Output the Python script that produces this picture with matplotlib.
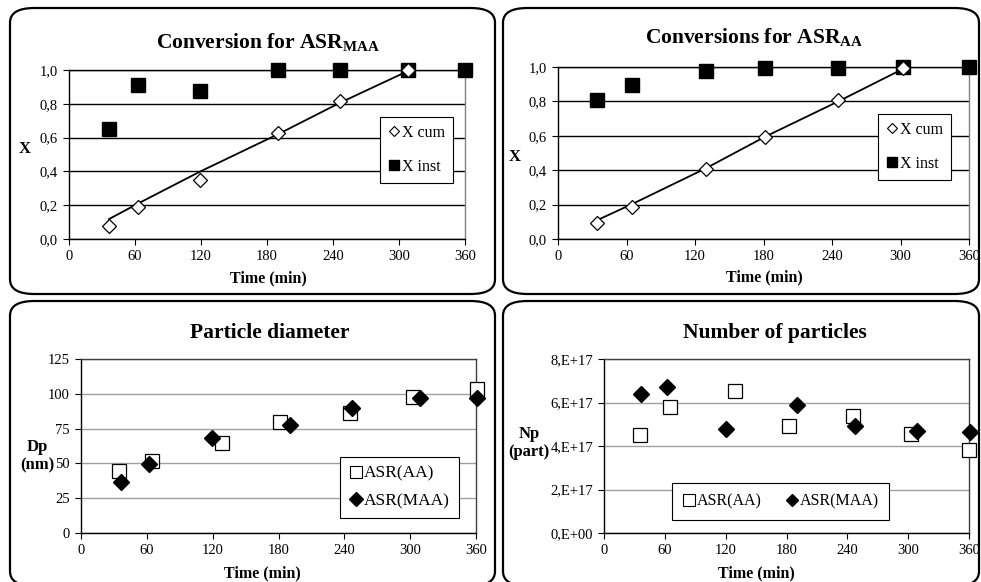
import matplotlib
matplotlib.use("Agg")
import matplotlib.pyplot as plt
from matplotlib.patches import FancyBboxPatch
from matplotlib.ticker import FixedLocator, FuncFormatter
from matplotlib.lines import Line2D

plt.rcParams['font.family'] = ['Liberation Serif', 'DejaVu Serif']
plt.rcParams['mathtext.fontset'] = 'custom'
plt.rcParams['mathtext.rm'] = 'Liberation Serif'
plt.rcParams['mathtext.bf'] = 'Liberation Serif:bold'

# ---- data ----
t_maa = [36.4, 62.8, 119.5, 190, 246, 308.5, 360]
xinst_maa = [0.649, 0.911, 0.878, 1.0, 1.0, 1.0, 1.0]
t_maa_cum = [36.4, 62.8, 119.5, 190, 246, 308.5]
xcum_maa = [0.077, 0.187, 0.347, 0.629, 0.818, 1.0]
fit_maa = [0.118, 0.21, 0.40, 0.62, 0.805, 0.995]

t_aa = [34.5, 64.9, 129.2, 181.5, 245.5, 302.5, 360]
xinst_aa = [0.807, 0.897, 0.975, 0.996, 0.996, 1.0, 1.0]
t_aa_cum = [34.5, 64.9, 129.2, 181.5, 245.5, 302.5]
xcum_aa = [0.091, 0.188, 0.406, 0.594, 0.807, 0.996]
fit_aa = [0.11, 0.203, 0.41, 0.595, 0.80, 0.99]

t_dp_aa = [34.9, 64.4, 128.8, 181.3, 245.1, 302.2, 360.6]
dp_aa = [44.4, 51.8, 64.3, 79.9, 85.9, 97.9, 103.4]
t_dp_maa = [36.1, 62.0, 119.1, 190.5, 246.7, 309.0, 360.6]
dp_maa = [36.9, 49.4, 68.4, 77.5, 89.5, 96.9, 97.2]

t_np_aa = [35.2, 64.8, 129.6, 182.3, 245.8, 302.4, 360.3]
np_aa = [4.50e17, 5.78e17, 6.54e17, 4.93e17, 5.38e17, 4.55e17, 3.81e17]
t_np_maa = [36.9, 62.5, 120.1, 190.5, 247.5, 309.0, 361.0]
np_maa = [6.39e17, 6.73e17, 4.76e17, 5.87e17, 4.93e17, 4.70e17, 4.65e17]

x_ticks = [0, 60, 120, 180, 240, 300, 360]

W, H = 981, 582
fig = plt.figure(figsize=(W / 100, H / 100), dpi=100)


def fx(px):
    return px / W


def fy(py):
    return 1 - py / H


def add_ax(l, t, r, b):
    return fig.add_axes([fx(l), fy(b), (r - l) / W, (b - t) / H])


# rounded panel boxes
for (l, t, r, b) in [(10, 8, 495, 294), (503, 8, 979, 294),
                     (10, 301, 495, 586), (503, 301, 979, 586)]:
    p = FancyBboxPatch((fx(l), fy(b)), (r - l) / W, (b - t) / H,
                       boxstyle="round,pad=0,rounding_size=0.025",
                       transform=fig.transFigure, fill=False,
                       edgecolor='black', linewidth=1.6, zorder=0)
    fig.patches.append(p)


def style_ax(ax, grid_color, spine_color):
    ax.set_xlim(0, 360)
    ax.xaxis.set_major_locator(FixedLocator(x_ticks))
    for s in ['top', 'right']:
        ax.spines[s].set_color(spine_color)
        ax.spines[s].set_linewidth(1.0)
    for s in ['left', 'bottom']:
        ax.spines[s].set_color('black')
        ax.spines[s].set_linewidth(1.0)
    ax.tick_params(direction='out', length=4, width=0.8, labelsize=10.5, pad=4,
                   colors='black')
    ax.yaxis.grid(True, color=grid_color, linewidth=1.0)
    ax.set_axisbelow(True)


comma = FuncFormatter(lambda v, p: f"{v:.1f}".replace('.', ','))

# ---- panel 1 ----
ax1 = add_ax(69, 70, 465, 239)
style_ax(ax1, 'black', '#808080')
ax1.spines['top'].set_color('black')
ax1.set_ylim(0, 1.0)
ax1.yaxis.set_major_locator(FixedLocator([0, 0.2, 0.4, 0.6, 0.8, 1.0]))
ax1.yaxis.set_major_formatter(comma)
ax1.plot(t_maa_cum, fit_maa, color='black', lw=1.3, zorder=2)
ax1.plot(t_maa, xinst_maa, 's', ms=9.5, color='black', clip_on=False, zorder=3)
ax1.plot(t_maa_cum, xcum_maa, 'D', ms=7.5, mfc='white', mec='black', mew=0.9,
         clip_on=False, zorder=4)

# ---- panel 2 ----
ax2 = add_ax(558, 67, 969, 239)
style_ax(ax2, 'black', '#808080')
ax2.spines['top'].set_color('black')
ax2.set_ylim(0, 1.0)
ax2.yaxis.set_major_locator(FixedLocator([0, 0.2, 0.4, 0.6, 0.8, 1.0]))
ax2.yaxis.set_major_formatter(comma)
ax2.plot(t_aa_cum, fit_aa, color='black', lw=1.3, zorder=2)
ax2.plot(t_aa, xinst_aa, 's', ms=9.5, color='black', clip_on=False, zorder=3)
ax2.plot(t_aa_cum, xcum_aa, 'D', ms=7.5, mfc='white', mec='black', mew=0.9,
         clip_on=False, zorder=4)

# ---- panel 3 ----
ax3 = add_ax(81, 359, 476, 533)
style_ax(ax3, '#a0a0a0', '#404040')
ax3.set_ylim(0, 125)
ax3.yaxis.set_major_locator(FixedLocator([0, 25, 50, 75, 100, 125]))
ax3.plot(t_dp_aa, dp_aa, 's', ms=10, mfc='white', mec='black', mew=0.9,
         clip_on=False, zorder=3)
ax3.plot(t_dp_maa, dp_maa, 'D', ms=8, color='black', clip_on=False, zorder=4)

# ---- panel 4 ----
ax4 = add_ax(604, 359, 969, 533)
style_ax(ax4, '#a0a0a0', '#404040')
ax4.set_ylim(0, 8e17)
ax4.yaxis.set_major_locator(FixedLocator([0, 2e17, 4e17, 6e17, 8e17]))
ax4.yaxis.set_major_formatter(FuncFormatter(
    lambda v, p: "0,E+00" if v == 0 else f"{int(round(v / 1e17))},E+17"))
ax4.plot(t_np_aa, np_aa, 's', ms=10, mfc='white', mec='black', mew=0.9,
         clip_on=False, zorder=3)
ax4.plot(t_np_maa, np_maa, 'D', ms=8, color='black', clip_on=False, zorder=4)

# ---- titles & labels ----
title_kw = dict(ha='center', va='center', fontsize=15.5, fontweight='bold')
fig.text(fx(268), fy(43), r'Conversion for ASR$_{\mathbf{MAA}}$', **title_kw)
fig.text(fx(754), fy(38), r'Conversions for ASR$_{\mathbf{AA}}$', **title_kw)
fig.text(fx(270), fy(333), 'Particle diameter', **title_kw)
fig.text(fx(775), fy(333), 'Number of particles', **title_kw)

xl_kw = dict(ha='center', va='center', fontsize=11.5, fontweight='bold')
fig.text(fx(268), fy(278), 'Time (min)', **xl_kw)
fig.text(fx(764), fy(277), 'Time (min)', **xl_kw)
fig.text(fx(262), fy(573), 'Time (min)', **xl_kw)
fig.text(fx(756), fy(573), 'Time (min)', **xl_kw)

yl_kw = dict(ha='center', va='center', fontsize=12, fontweight='bold', linespacing=1.2)
fig.text(fx(25), fy(149), 'X', **yl_kw)
fig.text(fx(515), fy(157), 'X', **yl_kw)
fig.text(fx(37), fy(456), 'Dp\n(nm)', **yl_kw)
fig.text(fx(529), fy(443), 'Np\n(part)', **yl_kw)

# ---- legends ----
leg_kw = dict(frameon=True, fancybox=False, edgecolor='black', framealpha=1,
              fontsize=11.5, handlelength=0.8, handletextpad=0.1,
              borderpad=0.5, labelspacing=1.1, borderaxespad=0,
              bbox_transform=fig.transFigure, loc='upper left')

h_cum = Line2D([], [], marker='D', ls='none', ms=5.5, mfc='white', mec='black', mew=0.8)
h_inst = Line2D([], [], marker='s', ls='none', ms=7.5, color='black')
l1 = ax1.legend([h_cum, h_inst], ['X cum', 'X inst'],
                bbox_to_anchor=(fx(380), fy(117)), **leg_kw)
l2 = ax2.legend([h_cum, h_inst], ['X cum', 'X inst'],
                bbox_to_anchor=(fx(878), fy(114)), **leg_kw)
for l in (l1, l2):
    l.get_frame().set_linewidth(0.8)

h_sq = Line2D([], [], marker='s', ls='none', ms=8, mfc='white', mec='black', mew=0.8)
h_di = Line2D([], [], marker='D', ls='none', ms=7, color='black')
leg_kw3 = dict(leg_kw)
leg_kw3.update(fontsize=12.5, labelspacing=0.65, borderpad=0.5)
l3 = ax3.legend([h_sq, h_di], ['ASR(AA)', 'ASR(MAA)'],
                bbox_to_anchor=(fx(340), fy(457)), **leg_kw3)
l3.get_frame().set_linewidth(0.8)

leg_kw4 = dict(leg_kw)
leg_kw4.update(ncol=2, columnspacing=1.5, borderpad=0.65, fontsize=11.5)
h_di4 = Line2D([], [], marker='D', ls='none', ms=6, color='black')
l4 = ax4.legend([h_sq, h_di4], ['ASR(AA)', 'ASR(MAA)'],
                bbox_to_anchor=(fx(672), fy(483)), **leg_kw4)
l4.get_frame().set_linewidth(0.8)

fig.savefig('out.png', dpi=100)
